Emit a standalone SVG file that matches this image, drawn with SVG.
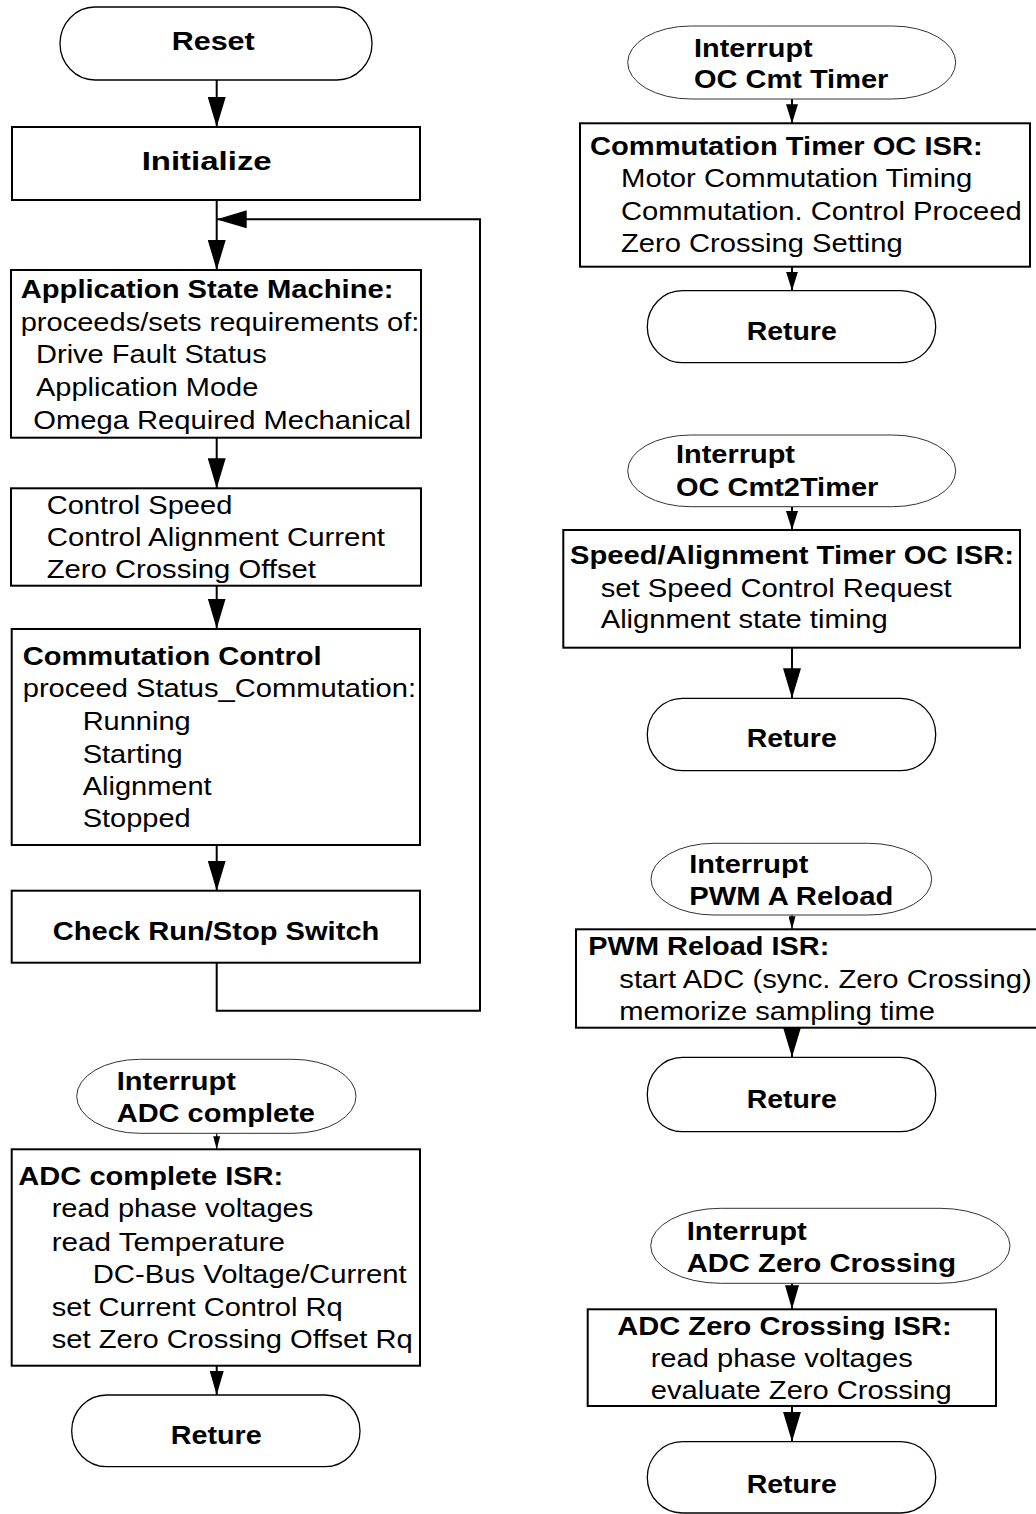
<svg xmlns="http://www.w3.org/2000/svg" width="1036" height="1514" viewBox="0 0 1036 1514">
<style>
.box{fill:#fff;stroke:#000;stroke-width:2}
.term{fill:#fff;stroke:#000;stroke-width:1.3}
.intr{fill:#fff;stroke:#333;stroke-width:1}
.t{font-family:"Liberation Sans",Arial,sans-serif;font-size:26px;fill:#000}
.b{font-weight:bold}
.ln{fill:none;stroke:#000;stroke-width:2}
.lt{fill:none;stroke:#000;stroke-width:1.2}
</style>
<defs>
<marker id="big" markerUnits="userSpaceOnUse" viewBox="0 0 30 18" markerWidth="30" markerHeight="18" refX="30" refY="9" orient="auto"><path d="M0,0 L30,9 L0,18 z" fill="#000"/></marker>
<marker id="med" markerUnits="userSpaceOnUse" viewBox="0 0 24 14" markerWidth="24" markerHeight="14" refX="24" refY="7" orient="auto"><path d="M0,0 L24,7 L0,14 z" fill="#000"/></marker>
<marker id="small" markerUnits="userSpaceOnUse" viewBox="0 0 19 12" markerWidth="19" markerHeight="12" refX="19" refY="6" orient="auto"><path d="M0,0 L19,6 L0,12 z" fill="#000"/></marker>
<marker id="tiny" markerUnits="userSpaceOnUse" viewBox="0 0 13 7" markerWidth="13" markerHeight="7" refX="13" refY="3.5" orient="auto"><path d="M0,0 L13,3.5 L0,7 z" fill="#000"/></marker>
</defs>
<rect width="1036" height="1514" fill="#fff"/>

<g id="connectors">
<path class="ln" d="M216.7,80 V127" marker-end="url(#big)"/>
<path class="ln" d="M216.7,200 V270" marker-end="url(#big)"/>
<path class="ln" d="M216.7,437.7 V488.3" marker-end="url(#big)"/>
<path class="ln" d="M216.7,585.7 V628.5" marker-end="url(#big)"/>
<path class="ln" d="M216.7,845 V890.7" marker-end="url(#big)"/>
<path class="ln" d="M216.7,962.7 V1010.7 H480 V219.3 H216.7" stroke-width="1.6" marker-end="url(#big)"/>
<path class="lt" d="M216.7,1133.3 V1149.3" marker-end="url(#tiny)"/>
<path class="ln" d="M216.7,1365.7 V1395" marker-end="url(#med)"/>
<path class="ln" d="M792,99 V123.3" marker-end="url(#small)"/>
<path class="ln" d="M792,266.7 V290.7" marker-end="url(#small)"/>
<path class="ln" d="M792,506.7 V530" marker-end="url(#small)"/>
<path class="ln" d="M792,647.7 V698.3" marker-end="url(#big)"/>
<path class="lt" d="M792,915 V929.3" marker-end="url(#tiny)"/>
<path class="ln" d="M792,1027.7 V1057.3" marker-end="url(#big)"/>
<path class="ln" d="M792,1283.3 V1309.3" marker-end="url(#med)"/>
<path class="ln" d="M792,1406 V1441.7" marker-end="url(#big)"/>
</g>

<g id="reset">
<rect class="term" x="60" y="7" width="312" height="73" rx="35" ry="36.5"/>
<text class="t b" x="171.7" y="50" textLength="83" lengthAdjust="spacingAndGlyphs">Reset</text>
</g>
<g id="initialize">
<rect class="box" x="12" y="127" width="408" height="73"/>
<text class="t b" x="141.7" y="170" textLength="130" lengthAdjust="spacingAndGlyphs">Initialize</text>
</g>
<g id="app-state-machine">
<rect class="box" x="11" y="270" width="410" height="167.7"/>
<text class="t b" x="20.7" y="298.3" textLength="372.7" lengthAdjust="spacingAndGlyphs">Application State Machine:</text>
<text class="t" x="20.7" y="330.7" textLength="398.7" lengthAdjust="spacingAndGlyphs">proceeds/sets requirements of:</text>
<text class="t" x="36" y="363.3" textLength="230.7" lengthAdjust="spacingAndGlyphs">Drive Fault Status</text>
<text class="t" x="36" y="396" textLength="222.3" lengthAdjust="spacingAndGlyphs">Application Mode</text>
<text class="t" x="33.3" y="429" textLength="377.7" lengthAdjust="spacingAndGlyphs">Omega Required Mechanical</text>
</g>
<g id="control">
<rect class="box" x="11" y="488.3" width="410" height="97.4"/>
<text class="t" x="46.7" y="514" textLength="185.6" lengthAdjust="spacingAndGlyphs">Control Speed</text>
<text class="t" x="46.7" y="546" textLength="338.3" lengthAdjust="spacingAndGlyphs">Control Alignment Current</text>
<text class="t" x="46.7" y="578.3" textLength="269.3" lengthAdjust="spacingAndGlyphs">Zero Crossing Offset</text>
</g>
<g id="commutation-control">
<rect class="box" x="11.7" y="629" width="408.3" height="216"/>
<text class="t b" x="22.7" y="665" textLength="299" lengthAdjust="spacingAndGlyphs">Commutation Control</text>
<text class="t" x="22.7" y="697.3" textLength="393.3" lengthAdjust="spacingAndGlyphs">proceed Status_Commutation:</text>
<text class="t" x="82.7" y="730" textLength="108" lengthAdjust="spacingAndGlyphs">Running</text>
<text class="t" x="82.7" y="762.7" textLength="100" lengthAdjust="spacingAndGlyphs">Starting</text>
<text class="t" x="82.7" y="795" textLength="129" lengthAdjust="spacingAndGlyphs">Alignment</text>
<text class="t" x="82.7" y="826.7" textLength="108" lengthAdjust="spacingAndGlyphs">Stopped</text>
</g>
<g id="check-switch">
<rect class="box" x="11.7" y="890.7" width="408.3" height="72"/>
<text class="t b" x="52.7" y="940" textLength="326.7" lengthAdjust="spacingAndGlyphs">Check Run/Stop Switch</text>
</g>
<g id="int-adc-complete">
<rect class="intr" x="76.7" y="1059.3" width="279.3" height="74" rx="63" ry="37"/>
<text class="t b" x="116.7" y="1090" textLength="119.3" lengthAdjust="spacingAndGlyphs">Interrupt</text>
<text class="t b" x="116.7" y="1121.7" textLength="198.3" lengthAdjust="spacingAndGlyphs">ADC complete</text>
</g>
<g id="isr-adc-complete">
<rect class="box" x="11.7" y="1149.3" width="408.3" height="216.4"/>
<text class="t b" x="18.3" y="1185" textLength="265" lengthAdjust="spacingAndGlyphs">ADC complete ISR:</text>
<text class="t" x="51.7" y="1217.3" textLength="261.6" lengthAdjust="spacingAndGlyphs">read phase voltages</text>
<text class="t" x="51.7" y="1250.7" textLength="233.3" lengthAdjust="spacingAndGlyphs">read Temperature</text>
<text class="t" x="92.7" y="1283.3" textLength="314" lengthAdjust="spacingAndGlyphs">DC-Bus Voltage/Current</text>
<text class="t" x="51.7" y="1316" textLength="291" lengthAdjust="spacingAndGlyphs">set Current Control Rq</text>
<text class="t" x="51.7" y="1348.3" textLength="361" lengthAdjust="spacingAndGlyphs">set Zero Crossing Offset Rq</text>
</g>
<g id="return-adc">
<rect class="term" x="71.7" y="1395" width="288.3" height="71.7" rx="35" ry="35.8"/>
<text class="t b" x="170.7" y="1444" textLength="91" lengthAdjust="spacingAndGlyphs">Reture</text>
</g>

<g id="int-oc-cmt">
<rect class="intr" x="627.7" y="26" width="328" height="73" rx="63" ry="36.5"/>
<text class="t b" x="694" y="56.7" textLength="118.7" lengthAdjust="spacingAndGlyphs">Interrupt</text>
<text class="t b" x="694" y="88.3" textLength="194.3" lengthAdjust="spacingAndGlyphs">OC Cmt Timer</text>
</g>
<g id="isr-oc-cmt">
<rect class="box" x="580" y="123.3" width="450" height="143.4"/>
<text class="t b" x="590" y="155" textLength="392.7" lengthAdjust="spacingAndGlyphs">Commutation Timer OC ISR:</text>
<text class="t" x="621" y="186.7" textLength="351.3" lengthAdjust="spacingAndGlyphs">Motor Commutation Timing</text>
<text class="t" x="621" y="220" textLength="400.7" lengthAdjust="spacingAndGlyphs">Commutation. Control Proceed</text>
<text class="t" x="621" y="251.7" textLength="281.7" lengthAdjust="spacingAndGlyphs">Zero Crossing Setting</text>
</g>
<g id="return-oc-cmt">
<rect class="term" x="647.3" y="290.7" width="288.4" height="72" rx="35" ry="36"/>
<text class="t b" x="746.7" y="340" textLength="90" lengthAdjust="spacingAndGlyphs">Reture</text>
</g>
<g id="int-oc-cmt2">
<rect class="intr" x="627.7" y="435" width="328" height="71.7" rx="63" ry="35.8"/>
<text class="t b" x="676" y="463.3" textLength="119" lengthAdjust="spacingAndGlyphs">Interrupt</text>
<text class="t b" x="676" y="496" textLength="202.3" lengthAdjust="spacingAndGlyphs">OC Cmt2Timer</text>
</g>
<g id="isr-speed-align">
<rect class="box" x="563.3" y="530" width="456.7" height="117.7"/>
<text class="t b" x="570" y="564" textLength="444" lengthAdjust="spacingAndGlyphs">Speed/Alignment Timer OC ISR:</text>
<text class="t" x="600.7" y="596.7" textLength="351" lengthAdjust="spacingAndGlyphs">set Speed Control Request</text>
<text class="t" x="600.7" y="628.3" textLength="287" lengthAdjust="spacingAndGlyphs">Alignment state timing</text>
</g>
<g id="return-speed">
<rect class="term" x="647.3" y="698.3" width="288.4" height="72.4" rx="35" ry="36"/>
<text class="t b" x="746.7" y="746.7" textLength="90" lengthAdjust="spacingAndGlyphs">Reture</text>
</g>
<g id="int-pwm">
<rect class="intr" x="651" y="843.3" width="280.7" height="71.7" rx="63" ry="35.8"/>
<text class="t b" x="689.3" y="872.7" textLength="119" lengthAdjust="spacingAndGlyphs">Interrupt</text>
<text class="t b" x="689.3" y="905" textLength="204" lengthAdjust="spacingAndGlyphs">PWM A Reload</text>
</g>
<g id="isr-pwm">
<rect class="box" x="576" y="929.3" width="480" height="98.4"/>
<text class="t b" x="588.3" y="955" textLength="241" lengthAdjust="spacingAndGlyphs">PWM Reload ISR:</text>
<text class="t" x="619.3" y="988.3" textLength="412.4" lengthAdjust="spacingAndGlyphs">start ADC (sync. Zero Crossing)</text>
<text class="t" x="619.3" y="1020" textLength="315.7" lengthAdjust="spacingAndGlyphs">memorize sampling time</text>
</g>
<g id="return-pwm">
<rect class="term" x="647.3" y="1057.3" width="288.4" height="74.4" rx="35" ry="37"/>
<text class="t b" x="746.7" y="1108.3" textLength="90" lengthAdjust="spacingAndGlyphs">Reture</text>
</g>
<g id="int-zc">
<rect class="intr" x="650.7" y="1208.3" width="359.3" height="75" rx="70" ry="37.5"/>
<text class="t b" x="686.7" y="1240" textLength="120" lengthAdjust="spacingAndGlyphs">Interrupt</text>
<text class="t b" x="686.7" y="1271.7" textLength="269.3" lengthAdjust="spacingAndGlyphs">ADC Zero Crossing</text>
</g>
<g id="isr-zc">
<rect class="box" x="587.7" y="1309.3" width="408.3" height="96.7"/>
<text class="t b" x="617.3" y="1335" textLength="334.4" lengthAdjust="spacingAndGlyphs">ADC Zero Crossing ISR:</text>
<text class="t" x="650.7" y="1366.7" textLength="262" lengthAdjust="spacingAndGlyphs">read phase voltages</text>
<text class="t" x="650.7" y="1399.3" textLength="301" lengthAdjust="spacingAndGlyphs">evaluate Zero Crossing</text>
</g>
<g id="return-zc">
<rect class="term" x="647.3" y="1441.7" width="288.4" height="71.3" rx="35" ry="35.6"/>
<text class="t b" x="746.7" y="1493.3" textLength="90" lengthAdjust="spacingAndGlyphs">Reture</text>
</g>
</svg>
